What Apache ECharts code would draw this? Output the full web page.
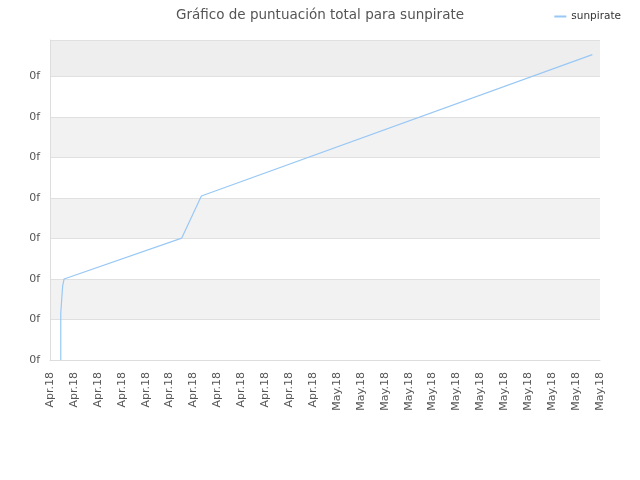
<!DOCTYPE html>
<html>
<head>
<meta charset="utf-8">
<script src="https://cdn.jsdelivr.net/npm/echarts@6/dist/echarts.min.js"></script>
<style>
html, body { margin: 0; padding: 0; background: #fff; }
#main { width: 640px; height: 480px; }
</style>
</head>
<body>
<div id="main"></div>
<script>
// tick labels along x (one per tick)
var xLabels = ['Apr.18', 'Apr.18', 'Apr.18', 'Apr.18', 'Apr.18', 'Apr.18', 'Apr.18', 'Apr.18',
    'Apr.18', 'Apr.18', 'Apr.18', 'Apr.18', 'May.18', 'May.18', 'May.18', 'May.18',
    'May.18', 'May.18', 'May.18', 'May.18', 'May.18', 'May.18', 'May.18', 'May.18'];
// series points, in tick units
var scoreX = [0.45, 0.45, 0.49, 0.49, 0.53, 0.53, 0.59, 5.51, 6.33, 22.68];
var scoreY = [0, 1.16, 1.16, 1.50, 1.50, 1.83, 2.0, 3.01, 4.05, 7.54];
var yMax = 7.9;

var points = scoreX.map(function (x, i) { return [x, scoreY[i]]; });

var myChart = echarts.init(document.getElementById('main'));
var option = {
    animation: false,
    backgroundColor: '#fff',
    title: {
        text: 'Gráfico de puntuación total para sunpirate',
        left: 'center',
        top: 3,
        textStyle: { fontFamily: 'DejaVu Sans', fontSize: 13.5, fontWeight: 'normal', color: '#555' }
    },
    legend: {
        right: 14,
        top: 6,
        itemWidth: 12,
        itemHeight: 2,
        itemGap: 6,
        icon: 'rect',
        textStyle: { fontFamily: 'DejaVu Sans', fontSize: 10.5, color: '#333' },
        data: ['sunpirate']
    },
    grid: { left: 50, right: 40, top: 40, bottom: 120 },
    xAxis: {
        type: 'value',
        min: 0,
        max: xLabels.length - 1,
        interval: 1,
        axisLine: { show: true, lineStyle: { color: '#ddd' } },
        axisTick: { show: false },
        splitLine: { show: false },
        axisLabel: {
            rotate: 90,
            margin: 12,
            fontFamily: 'DejaVu Sans',
            fontSize: 11,
            color: '#555',
            showMinLabel: true,
            showMaxLabel: true,
            formatter: function (v) { return xLabels[Math.round(v)]; }
        }
    },
    yAxis: {
        type: 'value',
        min: 0,
        max: yMax,
        interval: 1,
        axisLine: { show: true, lineStyle: { color: '#ddd' } },
        axisTick: { show: false },
        splitLine: { show: true, lineStyle: { color: '#e0e0e0' } },
        splitArea: {
            show: true,
            areaStyle: { color: ['#fff', '#f2f2f2', '#fff', '#f2f2f2', '#fff', '#f2f2f2', '#fff', '#eee'] }
        },
        axisLabel: {
            margin: 10,
            fontFamily: 'DejaVu Sans',
            fontSize: 11,
            color: '#555',
            showMaxLabel: false,
            formatter: function () { return '0f'; }
        }
    },
    series: [{
        name: 'sunpirate',
        type: 'line',
        data: points,
        showSymbol: false,
        lineStyle: { color: '#99c8f5', width: 1.2 },
        itemStyle: { color: '#99c8f5' }
    }]
};
myChart.setOption(option);
</script>
</body>
</html>
